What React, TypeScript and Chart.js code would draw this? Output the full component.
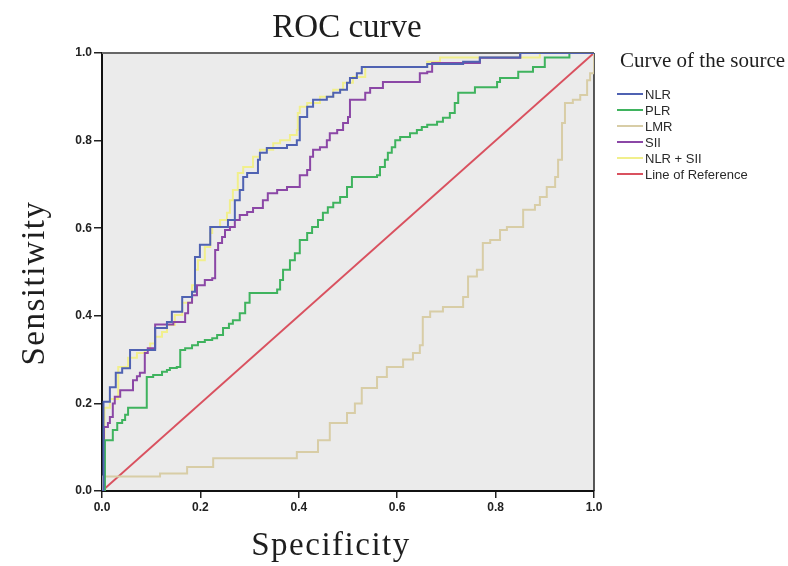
import { useEffect, useRef } from "react";
import Chart from "chart.js/auto";

// ROC curves: [1 - specificity (x), sensitivity (y)] step points
const NLR: [number, number][] = [
  [0, 0], [0.003, 0.204], [0.016, 0.237], [0.028, 0.27], [0.041, 0.28], [0.057, 0.322],
  [0.108, 0.372], [0.132, 0.386], [0.142, 0.409], [0.163, 0.443], [0.183, 0.455],
  [0.189, 0.534], [0.199, 0.562], [0.22, 0.603], [0.256, 0.619], [0.27, 0.664],
  [0.28, 0.687], [0.287, 0.717], [0.295, 0.726], [0.317, 0.756], [0.321, 0.772],
  [0.335, 0.783], [0.376, 0.79], [0.396, 0.801], [0.402, 0.854], [0.417, 0.877],
  [0.429, 0.893], [0.457, 0.9], [0.47, 0.909], [0.484, 0.916], [0.498, 0.932],
  [0.504, 0.943], [0.518, 0.954], [0.528, 0.968], [0.661, 0.975], [0.734, 0.98],
  [0.768, 0.99], [0.85, 1.0], [1, 1],
];

const PLR: [number, number][] = [
  [0, 0], [0.006, 0.116], [0.022, 0.139], [0.031, 0.155], [0.041, 0.162], [0.047, 0.174],
  [0.053, 0.19], [0.091, 0.26], [0.104, 0.265], [0.122, 0.272], [0.132, 0.276],
  [0.138, 0.281], [0.152, 0.283], [0.159, 0.322], [0.169, 0.326], [0.183, 0.333],
  [0.195, 0.34], [0.209, 0.345], [0.224, 0.349], [0.234, 0.356], [0.246, 0.372],
  [0.258, 0.382], [0.266, 0.39], [0.28, 0.406], [0.291, 0.43], [0.3, 0.452],
  [0.356, 0.46], [0.362, 0.482], [0.368, 0.505], [0.382, 0.527], [0.392, 0.543],
  [0.402, 0.573], [0.417, 0.589], [0.427, 0.603], [0.439, 0.619], [0.449, 0.635],
  [0.459, 0.648], [0.47, 0.658], [0.484, 0.671], [0.498, 0.694], [0.508, 0.717],
  [0.559, 0.721], [0.565, 0.74], [0.575, 0.756], [0.581, 0.772], [0.589, 0.785],
  [0.596, 0.801], [0.606, 0.808], [0.626, 0.817], [0.64, 0.824], [0.65, 0.831],
  [0.661, 0.836], [0.681, 0.843], [0.693, 0.852], [0.707, 0.863], [0.717, 0.886],
  [0.724, 0.909], [0.758, 0.922], [0.803, 0.934], [0.809, 0.943], [0.846, 0.957],
  [0.876, 0.968], [0.9, 0.99], [0.95, 1.0], [1, 1],
];

const LMR: [number, number][] = [
  [0, 0], [0.002, 0.033], [0.118, 0.04], [0.173, 0.055], [0.226, 0.075], [0.396, 0.089],
  [0.439, 0.116], [0.463, 0.155], [0.498, 0.178], [0.514, 0.2], [0.528, 0.235],
  [0.559, 0.26], [0.579, 0.283], [0.612, 0.3], [0.632, 0.315], [0.646, 0.333],
  [0.652, 0.397], [0.667, 0.41], [0.693, 0.42], [0.734, 0.443], [0.744, 0.49],
  [0.762, 0.505], [0.774, 0.566], [0.789, 0.573], [0.809, 0.596], [0.823, 0.603],
  [0.856, 0.642], [0.88, 0.653], [0.89, 0.671], [0.904, 0.694], [0.921, 0.717],
  [0.927, 0.756], [0.935, 0.84], [0.941, 0.886], [0.957, 0.893], [0.972, 0.904],
  [0.986, 0.938], [0.992, 0.954], [1, 1],
];

const SII: [number, number][] = [
  [0, 0], [0.004, 0.146], [0.012, 0.155], [0.016, 0.169], [0.022, 0.2], [0.026, 0.215],
  [0.037, 0.23], [0.063, 0.253], [0.071, 0.262], [0.077, 0.27], [0.087, 0.315],
  [0.093, 0.326], [0.108, 0.38], [0.145, 0.386], [0.169, 0.406], [0.175, 0.43],
  [0.183, 0.447], [0.193, 0.47], [0.209, 0.482], [0.224, 0.486], [0.23, 0.55],
  [0.236, 0.566], [0.244, 0.58], [0.25, 0.596], [0.26, 0.603], [0.27, 0.619],
  [0.28, 0.63], [0.295, 0.637], [0.307, 0.646], [0.327, 0.664], [0.337, 0.68],
  [0.356, 0.687], [0.376, 0.694], [0.402, 0.721], [0.417, 0.733], [0.423, 0.763],
  [0.429, 0.779], [0.443, 0.785], [0.457, 0.801], [0.463, 0.817], [0.478, 0.824],
  [0.49, 0.84], [0.5, 0.854], [0.504, 0.893], [0.535, 0.909], [0.545, 0.92],
  [0.571, 0.934], [0.646, 0.954], [0.661, 0.957], [0.671, 0.977], [0.768, 0.989],
  [0.85, 1.0], [1, 1],
];

const NLR_SII: [number, number][] = [
  [0, 0], [0.005, 0.19], [0.016, 0.21], [0.033, 0.283], [0.053, 0.304], [0.071, 0.315],
  [0.087, 0.322], [0.098, 0.337], [0.108, 0.352], [0.122, 0.363], [0.132, 0.379],
  [0.148, 0.402], [0.163, 0.43], [0.183, 0.47], [0.189, 0.505], [0.195, 0.527],
  [0.209, 0.557], [0.22, 0.589], [0.224, 0.603], [0.24, 0.619], [0.254, 0.635],
  [0.26, 0.664], [0.266, 0.687], [0.276, 0.726], [0.287, 0.74], [0.307, 0.763],
  [0.321, 0.779], [0.348, 0.794], [0.362, 0.801], [0.382, 0.813], [0.396, 0.824],
  [0.398, 0.863], [0.402, 0.877], [0.417, 0.886], [0.443, 0.9], [0.47, 0.916],
  [0.49, 0.932], [0.51, 0.945], [0.535, 0.968], [0.661, 0.98], [0.687, 0.99],
  [0.89, 1.0], [1, 1],
];

const REFERENCE: [number, number][] = [[0, 0], [1, 1]];

const SERIES_NAMES = ["NLR", "PLR", "LMR", "SII", "NLR + SII", "Line of Reference"];
const SERIES_COLORS = ["#4f62b2", "#3fb35e", "#d8cda6", "#8b47a6", "#f1ef8c", "#d9515f"];
const TICKS = [0, 0.2, 0.4, 0.6, 0.8, 1.0];

const TITLE = "ROC curve";
const X_TITLE = "Specificity";
const Y_TITLE = "Sensitiwity";
const LEGEND_TITLE = "Curve of the source";

export default function App() {
  const ref = useRef<HTMLCanvasElement>(null);

  useEffect(() => {
    const canvas = ref.current;
    if (!canvas) return;
    const seriesData = [NLR, PLR, LMR, SII, NLR_SII, REFERENCE];

    const decor = {
      id: "decor",
      beforeDraw(chart: any) {
        const { ctx, chartArea: a } = chart;
        ctx.save();
        ctx.fillStyle = "#ffffff";
        ctx.fillRect(0, 0, chart.width, chart.height);
        ctx.fillStyle = "#ebebeb";
        ctx.fillRect(a.left, a.top, a.right - a.left, a.bottom - a.top);
        ctx.restore();
      },
      beforeDatasetsDraw(chart: any) {
        const { ctx, chartArea: a } = chart;
        ctx.save();
        ctx.strokeStyle = "#666666";
        ctx.lineWidth = 2;
        ctx.beginPath();
        ctx.moveTo(a.left, a.top);
        ctx.lineTo(a.right, a.top);
        ctx.stroke();
        ctx.strokeStyle = "#222222";
        ctx.lineWidth = 1.5;
        ctx.beginPath();
        ctx.moveTo(a.right, a.top);
        ctx.lineTo(a.right, a.bottom);
        ctx.stroke();
        ctx.restore();
      },
      afterDraw(chart: any) {
        const { ctx, chartArea: a } = chart;
        ctx.save();
        ctx.fillStyle = "#1e1e1e";
        ctx.font = '33px "Liberation Serif", "DejaVu Serif", serif';
        ctx.textAlign = "center";
        ctx.textBaseline = "alphabetic";
        ctx.fillText(TITLE, 347, 37);

        (ctx as any).letterSpacing = "1.5px";
        ctx.fillText(X_TITLE, 331, 555);

        ctx.save();
        ctx.translate(44, 283);
        ctx.rotate(-Math.PI / 2);
        ctx.fillText(Y_TITLE, 0, 0);
        ctx.restore();
        (ctx as any).letterSpacing = "0px";

        // legend
        ctx.textAlign = "left";
        ctx.font = '21px "Liberation Serif", "DejaVu Serif", serif';
        ctx.fillText(LEGEND_TITLE, 620, 67);
        ctx.font = '13px "Liberation Sans", Arial, sans-serif';
        ctx.textBaseline = "middle";
        SERIES_NAMES.forEach((name, i) => {
          const y = 94 + i * 16;
          ctx.strokeStyle = SERIES_COLORS[i];
          ctx.lineWidth = 2;
          ctx.beginPath();
          ctx.moveTo(617, y);
          ctx.lineTo(643, y);
          ctx.stroke();
          ctx.fillStyle = "#2a2a2a";
          ctx.fillText(name, 645, y + 1);
        });
        ctx.restore();
      },
    };

    const tickFont = { family: '"Liberation Sans", Arial, sans-serif', weight: "bold" as const, size: 12 };

    const chart = new Chart(canvas, {
      type: "line",
      data: {
        datasets: seriesData.map((d, i) => ({
          label: SERIES_NAMES[i],
          data: d.map(([x, y]) => ({ x, y })),
          borderColor: SERIES_COLORS[i],
          backgroundColor: SERIES_COLORS[i],
          borderWidth: 2,
          pointRadius: 0,
          fill: false,
          tension: 0,
          stepped: i < 5 ? true : false,
        })),
      },
      options: {
        animation: false,
        responsive: false,
        events: [],
        layout: { padding: { left: 62, right: 194, top: 53, bottom: 45 } },
        plugins: {
          legend: { display: false },
          title: { display: false },
          tooltip: { enabled: false },
        },
        scales: {
          x: {
            type: "linear",
            min: 0,
            max: 1,
            afterFit: (s: any) => {
              s.height = 30;
            },
            afterBuildTicks: (s: any) => {
              s.ticks = TICKS.map((v) => ({ value: v }));
            },
            ticks: {
              callback: (v: any) => Number(v).toFixed(1),
              font: tickFont,
              color: "#222",
              padding: 2,
              maxRotation: 0,
            },
            grid: { drawOnChartArea: false, drawTicks: true, tickLength: 7, color: "#222", lineWidth: 1.5 },
            border: { display: true, color: "#111", width: 2 },
          },
          y: {
            type: "linear",
            min: 0,
            max: 1,
            afterFit: (s: any) => {
              s.width = 40;
            },
            afterBuildTicks: (s: any) => {
              s.ticks = TICKS.map((v) => ({ value: v }));
            },
            ticks: {
              callback: (v: any) => Number(v).toFixed(1),
              font: tickFont,
              color: "#222",
              padding: 2,
            },
            grid: { drawOnChartArea: false, drawTicks: true, tickLength: 8, color: "#222", lineWidth: 1.5 },
            border: { display: true, color: "#111", width: 2 },
          },
        },
      },
      plugins: [decor],
    });

    return () => chart.destroy();
  }, []);

  return (
    <div style={{ position: "absolute", left: 0, top: 0, width: 788, height: 566, background: "#fff" }}>
      <canvas ref={ref} width={788} height={566} style={{ display: "block" }} />
    </div>
  );
}
